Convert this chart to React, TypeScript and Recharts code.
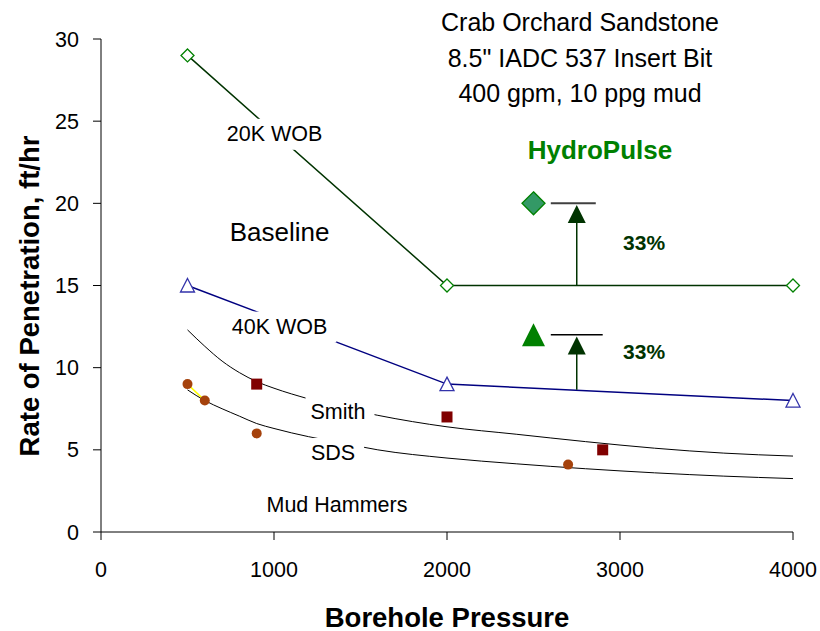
import React from 'react';
import { ComposedChart, Line, Scatter, XAxis, YAxis, ReferenceLine } from 'recharts';

const FONT = '"Liberation Sans", Arial, Helvetica, sans-serif';

// axes
const xTicks = [0, 1000, 2000, 3000, 4000];
const yTicks = [0, 5, 10, 15, 20, 25, 30];

// baseline runs (borehole pressure, ft/hr)
const wob20 = [
  { x: 500, y: 29 },
  { x: 2000, y: 15 },
  { x: 4000, y: 15 },
];
const wob40 = [
  { x: 500, y: 15 },
  { x: 2000, y: 9 },
  { x: 4000, y: 8 },
];

// trend curves
const smithCurve = [
  { x: 500, y: 12.3 }, { x: 600, y: 11.3 }, { x: 700, y: 10.4 }, { x: 800, y: 9.7 },
  { x: 900, y: 9.15 }, { x: 1000, y: 8.75 }, { x: 1200, y: 8.1 }, { x: 1400, y: 7.55 },
  { x: 1600, y: 7.1 }, { x: 2000, y: 6.4 }, { x: 2400, y: 5.95 }, { x: 2800, y: 5.5 },
  { x: 3200, y: 5.1 }, { x: 3600, y: 4.8 }, { x: 4000, y: 4.62 },
];
const sdsCurve = [
  { x: 500, y: 8.65 }, { x: 600, y: 8.0 }, { x: 700, y: 7.5 }, { x: 800, y: 7.05 },
  { x: 900, y: 6.6 }, { x: 1000, y: 6.3 }, { x: 1200, y: 5.8 }, { x: 1400, y: 5.4 },
  { x: 1600, y: 5.0 }, { x: 2000, y: 4.5 }, { x: 2400, y: 4.15 }, { x: 2800, y: 3.85 },
  { x: 3200, y: 3.6 }, { x: 3600, y: 3.4 }, { x: 4000, y: 3.25 },
];

// mud hammer test points
const smithPoints = [
  { x: 900, y: 9 },
  { x: 2000, y: 7 },
  { x: 2900, y: 5 },
];
const sdsPoints = [
  { x: 500, y: 9 },
  { x: 600, y: 8 },
  { x: 900, y: 6 },
  { x: 2700, y: 4.1 },
];
const sdsLink = sdsPoints.slice(0, 2);

// HydroPulse results
const hydroDiamond = [{ x: 2500, y: 20 }];
const hydroTriangle = [{ x: 2500, y: 12 }];

// improvement arrows
const arrowX = 2750;
const upperStem = [{ x: arrowX, y: 15 }, { x: arrowX, y: 19 }];
const upperCap = [{ x: 2600, y: 20 }, { x: 2860, y: 20 }];
const lowerStem = [{ x: arrowX, y: 8.65 }, { x: arrowX, y: 11 }];
const lowerCap = [{ x: 2600, y: 12 }, { x: 2900, y: 12 }];
const arrowHeads = [{ x: arrowX, y: 19.9 }, { x: arrowX, y: 11.9 }];

// in-plot annotations
const labels = [
  { x: 1003, y: 24.2, text: '20K WOB', size: 21.5, bold: false, color: '#000', box: true },
  { x: 1032, y: 18.26, text: 'Baseline', size: 26, bold: false, color: '#000', box: false },
  { x: 1032, y: 12.47, text: '40K WOB', size: 21.5, bold: false, color: '#000', box: true },
  { x: 1370, y: 7.3, text: 'Smith', size: 21.5, bold: false, color: '#000', box: true },
  { x: 1341, y: 4.78, text: 'SDS', size: 21.5, bold: false, color: '#000', box: true },
  { x: 1364, y: 1.64, text: 'Mud Hammers', size: 21.5, bold: false, color: '#000', box: false },
  { x: 2884, y: 23.25, text: 'HydroPulse', size: 26, bold: true, color: '#008000', box: false },
  { x: 3139, y: 17.6, text: '33%', size: 21, bold: true, color: '#003300', box: false },
  { x: 3139, y: 10.97, text: '33%', size: 21, bold: true, color: '#003300', box: false },
];

const titleLines = ['Crab Orchard Sandstone', '8.5" IADC 537 Insert Bit', '400 gpm, 10 ppg mud'];

let ctx: CanvasRenderingContext2D | null = null;
function textWidth(text: string, size: number, bold: boolean) {
  if (!ctx) ctx = document.createElement('canvas').getContext('2d');
  if (!ctx) return text.length * size * 0.55;
  ctx.font = `${bold ? 'bold ' : ''}${size}px ${FONT}`;
  return ctx.measureText(text).width;
}

const TextLabel = (props: any) => {
  const { cx, cy, payload } = props;
  const w = textWidth(payload.text, payload.size, payload.bold);
  return (
    <g>
      {payload.box && <rect x={cx - w / 2 - 5} y={cy - 15.5} width={w + 14} height={31} fill="#fff" />}
      <text
        x={cx}
        y={cy}
        textAnchor="middle"
        dominantBaseline="central"
        fontFamily={FONT}
        fontSize={payload.size}
        fontWeight={payload.bold ? 'bold' : 'normal'}
        fill={payload.color}
      >
        {payload.text}
      </text>
    </g>
  );
};

const HollowDiamond = ({ cx, cy }: any) => (
  <polygon points={`${cx},${cy - 6.5} ${cx + 6.5},${cy} ${cx},${cy + 6.5} ${cx - 6.5},${cy}`} fill="#fff" stroke="#008000" strokeWidth={1.3} />
);
const HollowTriangle = ({ cx, cy }: any) => (
  <polygon points={`${cx},${cy - 7} ${cx + 7},${cy + 6.5} ${cx - 7},${cy + 6.5}`} fill="#fff" stroke="#3333aa" strokeWidth={1.3} />
);
const RedSquare = ({ cx, cy }: any) => <rect x={cx - 5.5} y={cy - 5.5} width={11} height={11} fill="#800000" />;
const BrownDot = ({ cx, cy }: any) => <circle cx={cx} cy={cy} r={5} fill="#a5420c" />;
const BigDiamond = ({ cx, cy }: any) => (
  <polygon points={`${cx},${cy - 11.5} ${cx + 11.5},${cy} ${cx},${cy + 11.5} ${cx - 11.5},${cy}`} fill="#339966" stroke="#008000" strokeWidth={1.3} />
);
const BigTriangle = ({ cx, cy }: any) => (
  <polygon points={`${cx},${cy - 11.5} ${cx + 11.5},${cy + 11.5} ${cx - 11.5},${cy + 11.5}`} fill="#008000" />
);
const ArrowHead = ({ cx, cy }: any) => (
  <polygon points={`${cx},${cy} ${cx + 9},${cy + 18} ${cx - 9},${cy + 18}`} fill="#003300" />
);

const tickStyle = { fill: '#000', fontSize: 21.5, fontFamily: FONT };

export default function App() {
  return (
    <div style={{ position: 'absolute', left: 0, top: 0, width: 820, height: 631, background: '#fff' }}>
      <ComposedChart width={820} height={631} margin={{ top: 39, right: 27, bottom: 0, left: 0 }}>
        <XAxis
          type="number"
          dataKey="x"
          domain={[0, 4000]}
          ticks={xTicks}
          interval={0}
          height={99}
          stroke="#000"
          tickSize={8}
          tickMargin={22}
          tick={tickStyle}
        />
        <YAxis
          type="number"
          dataKey="y"
          domain={[0, 30]}
          ticks={yTicks}
          interval={0}
          width={101}
          stroke="#000"
          tickSize={8}
          tickMargin={14}
          tick={tickStyle}
        />
        <Line data={smithCurve} dataKey="y" type="monotone" stroke="#000" strokeWidth={1} dot={false} isAnimationActive={false} />
        <Line data={sdsCurve} dataKey="y" type="monotone" stroke="#000" strokeWidth={1} dot={false} isAnimationActive={false} />
        <Line data={sdsLink} dataKey="y" type="linear" stroke="#ffff00" strokeWidth={1.5} dot={false} isAnimationActive={false} />
        <Line data={wob20} dataKey="y" type="linear" stroke="#003300" strokeWidth={1.5} dot={false} isAnimationActive={false} />
        <Line data={wob40} dataKey="y" type="linear" stroke="#000080" strokeWidth={1.5} dot={false} isAnimationActive={false} />
        <ReferenceLine segment={upperStem} stroke="#003300" strokeWidth={1.5} />
        <ReferenceLine segment={lowerStem} stroke="#003300" strokeWidth={1.5} />
        <ReferenceLine segment={upperCap} stroke="#404040" strokeWidth={2} />
        <ReferenceLine segment={lowerCap} stroke="#000" strokeWidth={1.5} />
        <Scatter data={labels} dataKey="y" shape={TextLabel} isAnimationActive={false} />
        <Scatter data={wob20} dataKey="y" shape={HollowDiamond} isAnimationActive={false} />
        <Scatter data={wob40} dataKey="y" shape={HollowTriangle} isAnimationActive={false} />
        <Scatter data={smithPoints} dataKey="y" shape={RedSquare} isAnimationActive={false} />
        <Scatter data={sdsPoints} dataKey="y" shape={BrownDot} isAnimationActive={false} />
        <Scatter data={hydroDiamond} dataKey="y" shape={BigDiamond} isAnimationActive={false} />
        <Scatter data={hydroTriangle} dataKey="y" shape={BigTriangle} isAnimationActive={false} />
        <Scatter data={arrowHeads} dataKey="y" shape={ArrowHead} isAnimationActive={false} />
      </ComposedChart>
      <svg width={820} height={631} style={{ position: 'absolute', left: 0, top: 0, pointerEvents: 'none' }}>
        {titleLines.map((t, i) => (
          <text key={t} x={580} y={22 + i * 35.5} textAnchor="middle" dominantBaseline="central" fontFamily={FONT} fontSize={25} fill="#000">
            {t}
          </text>
        ))}
        <text x={447} y={617} textAnchor="middle" dominantBaseline="central" fontFamily={FONT} fontSize={27.5} fontWeight="bold" fill="#000">
          Borehole Pressure
        </text>
        <text
          x={29}
          y={296}
          transform="rotate(-90 29 296)"
          textAnchor="middle"
          dominantBaseline="central"
          fontFamily={FONT}
          fontSize={27.5}
          fontWeight="bold"
          fill="#000"
        >
          Rate of Penetration, ft/hr
        </text>
      </svg>
    </div>
  );
}
